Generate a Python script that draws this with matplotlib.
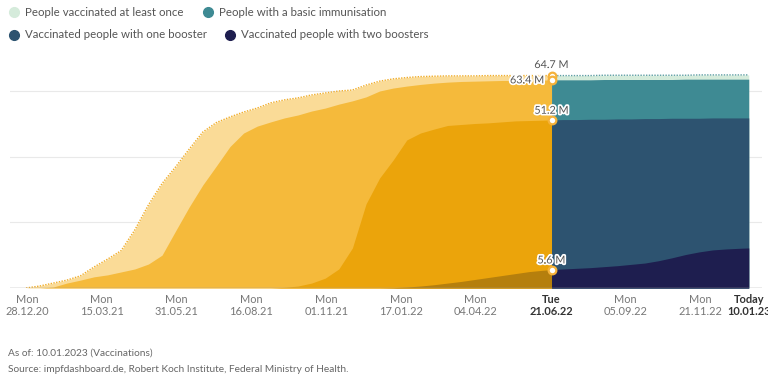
import matplotlib
matplotlib.use("Agg")
import matplotlib.pyplot as plt
import matplotlib.patheffects as pe
from matplotlib.lines import Line2D
import pandas as pd

plt.rcParams['font.family'] = ['Lato', 'DejaVu Sans']

# ---------------- data (millions) ----------------
dates_before = [
    "2020-12-27", "2021-01-10", "2021-01-24", "2021-02-07", "2021-02-21", "2021-03-07",
    "2021-03-21", "2021-04-04", "2021-04-18", "2021-05-02", "2021-05-16", "2021-05-30",
    "2021-06-13", "2021-06-27", "2021-07-11", "2021-07-25", "2021-08-08", "2021-08-22",
    "2021-09-05", "2021-09-19", "2021-10-03", "2021-10-17", "2021-10-31", "2021-11-14",
    "2021-11-28", "2021-12-12", "2021-12-26", "2022-01-09", "2022-01-23", "2022-02-06",
    "2022-02-20", "2022-03-06", "2022-03-20", "2022-04-03", "2022-04-17", "2022-05-01",
    "2022-05-15", "2022-05-29", "2022-06-12", "2022-06-21",
]
at_least_once_before = [
    0.0, 0.6, 1.5, 2.4, 3.7, 6.4,
    8.8, 11.4, 17.7, 25.3, 31.8, 36.9,
    42.3, 47.5, 50.4, 52.1, 53.6, 54.8,
    56.4, 57.3, 57.9, 58.8, 59.4, 60.0,
    60.3, 61.8, 63.0, 63.7, 64.1, 64.4,
    64.5, 64.6, 64.6, 64.6, 64.7, 64.7,
    64.7, 64.7, 64.7, 64.7,
]
basic_before = [
    0.0, 0.0, 0.3, 1.5, 2.4, 3.4,
    4.0, 4.9, 5.8, 7.3, 10.0, 17.4,
    24.7, 31.4, 37.2, 43.1, 47.2, 49.3,
    50.6, 51.8, 52.7, 53.9, 54.8, 56.0,
    57.0, 58.2, 60.0, 60.9, 61.5, 62.0,
    62.4, 62.7, 62.9, 63.0, 63.1, 63.2,
    63.2, 63.3, 63.3, 63.4,
]
one_booster_before = [
    0.0, 0.0, 0.0, 0.0, 0.0, 0.0,
    0.0, 0.0, 0.0, 0.0, 0.0, 0.0,
    0.0, 0.0, 0.0, 0.0, 0.0, 0.0,
    0.0, 0.2, 0.6, 1.5, 3.0, 5.8,
    12.2, 25.6, 33.5, 39.0, 45.1, 47.2,
    48.4, 49.5, 49.8, 50.1, 50.3, 50.6,
    50.9, 51.0, 51.1, 51.2,
]
two_boosters_before = [
    0.0, 0.0, 0.0, 0.0, 0.0, 0.0,
    0.0, 0.0, 0.0, 0.0, 0.0, 0.0,
    0.0, 0.0, 0.0, 0.0, 0.0, 0.0,
    0.0, 0.0, 0.0, 0.0, 0.0, 0.0,
    0.0, 0.0, 0.0, 0.1, 0.3, 0.6,
    1.0, 1.5, 2.0, 2.6, 3.2, 3.8,
    4.4, 5.0, 5.4, 5.6,
]

dates_after = [
    "2022-06-21", "2022-07-03", "2022-07-17", "2022-07-31", "2022-08-14", "2022-08-28",
    "2022-09-11", "2022-09-25", "2022-10-09", "2022-10-23", "2022-11-06", "2022-11-20",
    "2022-12-04", "2022-12-18", "2023-01-01", "2023-01-10",
]
at_least_once_after = [64.7, 64.7, 64.7, 64.7, 64.8, 64.8, 64.8, 64.8, 64.8, 64.8, 64.8,
                       64.9, 64.9, 64.9, 64.9, 64.9]
basic_after = [63.4, 63.4, 63.4, 63.4, 63.5, 63.5, 63.5, 63.5, 63.5, 63.5, 63.6,
               63.6, 63.6, 63.6, 63.6, 63.6]
one_booster_after = [51.2, 51.3, 51.3, 51.4, 51.4, 51.5, 51.5, 51.6, 51.6, 51.7, 51.7,
                     51.7, 51.8, 51.8, 51.8, 51.8]
two_boosters_after = [5.6, 5.8, 6.0, 6.2, 6.5, 6.8, 7.2, 7.6, 8.3, 9.2, 10.2,
                      11.0, 11.6, 11.9, 12.1, 12.2]

tick_dates = ["2020-12-28", "2021-03-15", "2021-05-31", "2021-08-16", "2021-11-01",
              "2022-01-17", "2022-04-04", "2022-06-21", "2022-09-05", "2022-11-21",
              "2023-01-10"]
tick_labels = ["Mon\n28.12.20", "Mon\n15.03.21", "Mon\n31.05.21", "Mon\n16.08.21",
               "Mon\n01.11.21", "Mon\n17.01.22", "Mon\n04.04.22", "Tue\n21.06.22",
               "Mon\n05.09.22", "Mon\n21.11.22", "Today\n10.01.23"]
bold_ticks = ["Tue\n21.06.22", "Today\n10.01.23"]

y_ticks = [0, 20, 40, 60]
y_tick_labels = ["0", "20 M", "40 M", "60 M"]

legend_labels = ["People vaccinated at least once", "People with a basic immunisation",
                 "Vaccinated people with one booster", "Vaccinated people with two boosters"]

annot_values = [64.7, 63.4, 51.2, 5.6]
annot_labels = ["64.7 M", "63.4 M", "51.2 M", "5.6 M"]

# ---------------- styles ----------------
yellow_cols = ["#fadb97", "#f5ba3b", "#eba40b", "#b57f0d"]
blue_cols = ["#d5ebdb", "#3e8a93", "#2d5370", "#1e1e4f"]

db = pd.to_datetime(dates_before)
da = pd.to_datetime(dates_after)

W, H = 768, 379
fig = plt.figure(figsize=(W / 100, H / 100), dpi=100)
ax_left, ax_right, ax_bottom_px = 10, 762, 288
ymax = 70
px_per_m = 197 / 60
ax_top_px = ax_bottom_px - ymax * px_per_m
ax = fig.add_axes([ax_left / W, (H - ax_bottom_px) / H, (ax_right - ax_left) / W,
                   (ax_bottom_px - ax_top_px) / H])

ppd = 0.9714
d0 = pd.Timestamp("2020-12-28")
x_left = d0 - pd.Timedelta(days=(27 - ax_left) / ppd)
x_right = d0 + pd.Timedelta(days=(ax_right - 27) / ppd)
ax.set_xlim(x_left, x_right)
ax.set_ylim(0, ymax)

series_before = [at_least_once_before, basic_before, one_booster_before, two_boosters_before]
series_after = [at_least_once_after, basic_after, one_booster_after, two_boosters_after]

for i, (sb, sa) in enumerate(zip(series_before, series_after)):
    ax.fill_between(db, 0, sb, color=yellow_cols[i], lw=0, zorder=2 + i)
    ax.fill_between(da, 0, sa, color=blue_cols[i], lw=0, zorder=2 + i)

ax.plot(db, at_least_once_before, color="#f0ad2a", lw=1.0, ls=(0, (1, 1)), zorder=7)
ax.plot(da, at_least_once_after, color="#5e9ea3", lw=1.0, ls=(0, (1, 1)), zorder=7)

for yv in y_ticks[1:]:
    ax.axhline(yv, color="#e9e9e9", lw=0.8, zorder=1)
ax.axhline(0, color="#a0a0a0", lw=1.0, zorder=8)

for s in ax.spines.values():
    s.set_visible(False)

ax.set_xticks(pd.to_datetime(tick_dates))
ax.set_xticklabels(tick_labels)
ax.tick_params(axis="x", length=0, pad=4, labelsize=7.9, labelcolor="#777777")
for lab in ax.get_xticklabels():
    lab.set_linespacing(1.2)
    if lab.get_text() in bold_ticks:
        lab.set_fontweight("bold")
        lab.set_color("#333333")

ax.yaxis.tick_right()
ax.set_yticks(y_ticks)
ax.set_yticklabels(y_tick_labels)
ax.tick_params(axis="y", length=0, pad=4, labelsize=7.5, labelcolor="#777777")

ad = pd.Timestamp("2022-06-21")
halo = [pe.withStroke(linewidth=2.5, foreground="white")]
for v in annot_values:
    ax.plot([ad], [v], marker="o", ms=5.5, mfc="white", mec="#f5b23a", mew=1.6,
            zorder=10, clip_on=False)
offsets = [(0, 4, "center", "bottom"), (-5, 0, "right", "center"),
           (0, 3, "center", "bottom"), (0, 3, "center", "bottom")]
for v, lab, (dx, dy, ha, va) in zip(annot_values, annot_labels, offsets):
    ax.annotate(lab, (ad, v), xytext=(dx, dy), textcoords="offset points",
                ha=ha, va=va, fontsize=7.8, color="#555555", zorder=11,
                path_effects=halo)

leg_pos = [(14, 12, 25), (208, 12, 219), (14, 35, 25), (230, 35, 241)]
for (mx, my, tx), lab, col in zip(leg_pos, legend_labels, blue_cols):
    fig.add_artist(Line2D([mx / W], [1 - my / H], marker="o", ms=7, color=col, lw=0,
                          transform=fig.transFigure))
    fig.text(tx / W, 1 - my / H, lab, fontsize=8.3, color="#555555", va="center", ha="left")

fig.text(8 / W, 1 - 353 / H, "As of: 10.01.2023 (Vaccinations)", fontsize=7.3,
         color="#666666", va="center")
fig.text(8 / W, 1 - 369 / H,
         "Source: impfdashboard.de, Robert Koch Institute, Federal Ministry of Health.",
         fontsize=7.3, color="#666666", va="center")

fig.savefig("out.png", dpi=100)
